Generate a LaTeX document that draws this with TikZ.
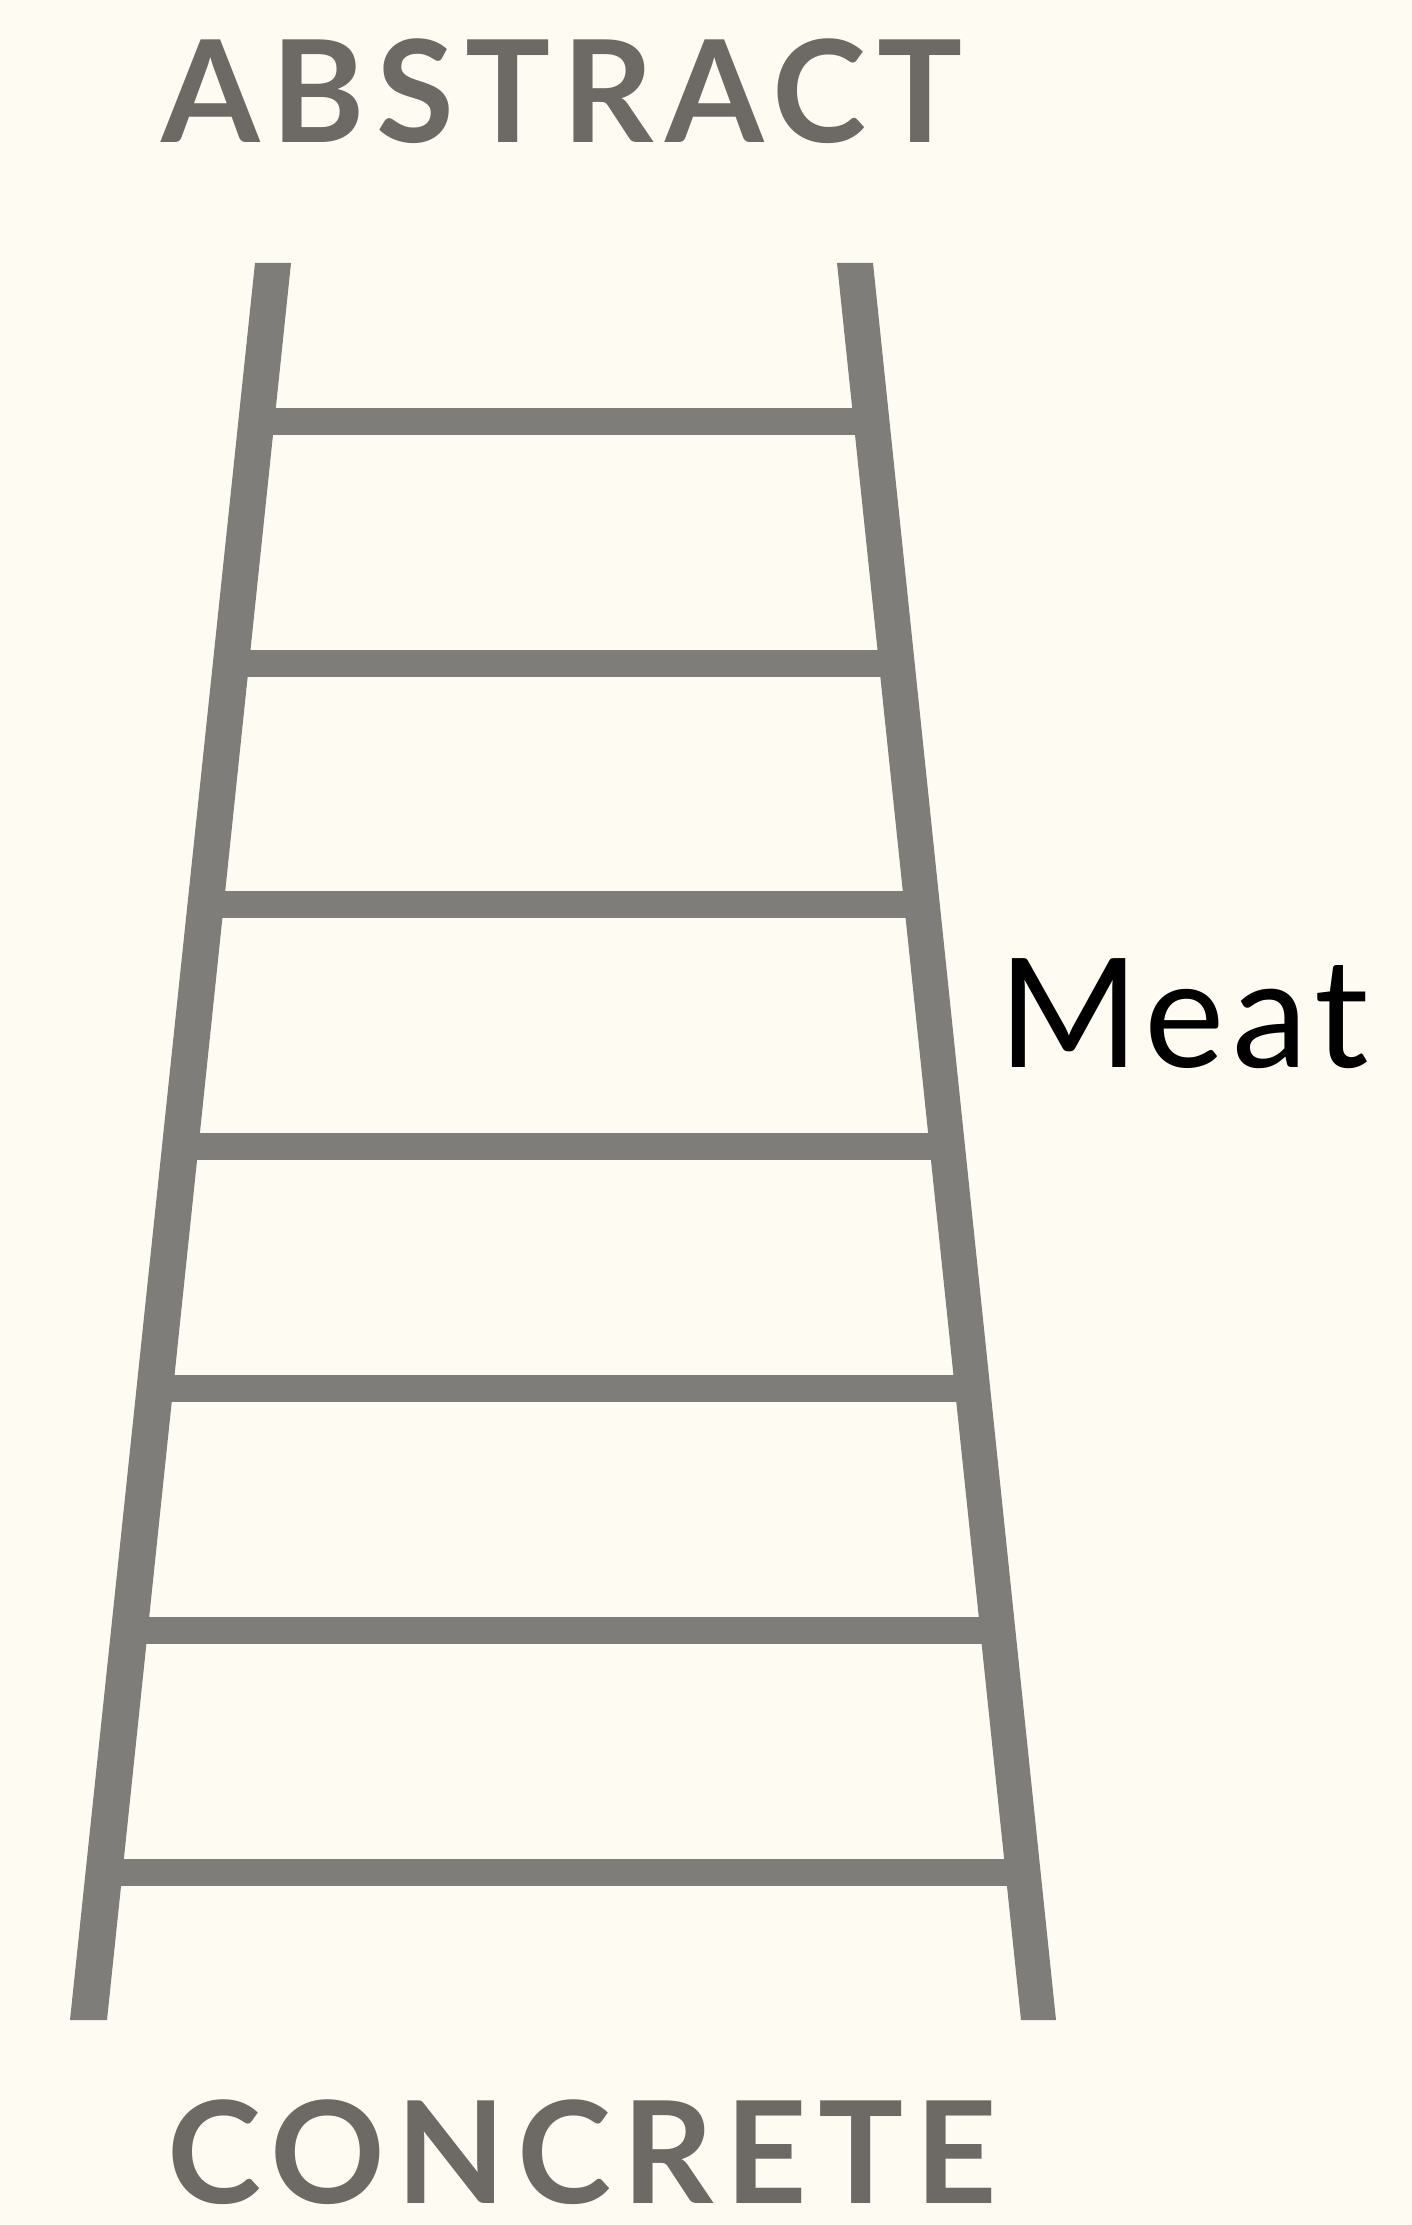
\documentclass[tikz,border=0pt]{standalone}
\usepackage{fontspec}
\setmainfont{Lato}
\newfontfamily\endfont[LetterSpace=8]{Lato}
\newfontfamily\sidefont[LetterSpace=5]{Lato}
\usetikzlibrary{calc}
\definecolor{paper}{HTML}{FEFBF3}
\definecolor{railgray}{HTML}{7E7D7A}
\definecolor{wordgray}{HTML}{6D6A66}

\begin{document}
\begin{tikzpicture}[x=0.5pt,y=-0.5pt,
    rail/.style={fill=railgray},
    rung/.style={draw=railgray,line width=13.5pt},
    endword/.style={text=wordgray,inner sep=0pt,anchor=base,
        font={\endfont\bfseries\fontsize{71}{80}\selectfont}},
    sideword/.style={text=black,inner sep=0pt,anchor=base west,
        font={\sidefont\fontsize{76}{84}\selectfont}}]
    % === Page ===
    \fill[paper] (0,0) rectangle (1412,2225);
    \useasboundingbox (0,0) rectangle (1412,2225);

    % Rail centre lines
    \coordinate (lt) at (273,263);
    \coordinate (lb) at (88.5,2020);
    \coordinate (rt) at (855,263);
    \coordinate (rb) at (1038.5,2020);

    % Rungs
    \foreach \k in {0,...,6} {
        \pgfmathsetmacro{\t}{(158.5+241.75*\k)/1757}
        \draw[rung] ($(lt)!\t!(lb)$) -- ($(rt)!\t!(rb)$);
    }

    % Rails
    \fill[rail] (255,263) -- (291,263) -- (107,2020) -- (70,2020) -- cycle;
    \fill[rail] (837,263) -- (873,263) -- (1056,2020) -- (1021,2020) -- cycle;

    % Labels
    \node[endword] (abstract) at (562,143) {ABSTRACT};
    \node[endword] (concrete) at (582,2203) {CONCRETE};
    \node[sideword] (meat) at (998,1067) {Meat};
\end{tikzpicture}
\end{document}
